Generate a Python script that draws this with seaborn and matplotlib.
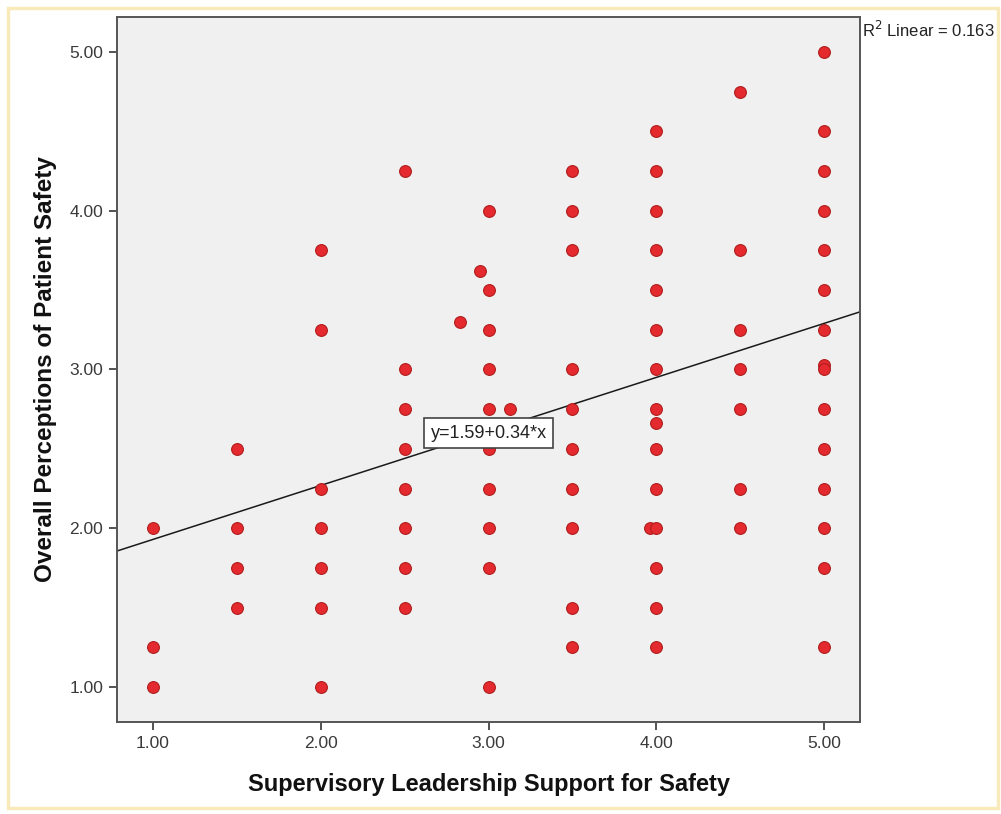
import matplotlib
matplotlib.use("Agg")
import matplotlib.pyplot as plt
import seaborn as sns
import pandas as pd
from matplotlib.patches import Rectangle

# ---- data ----
x_vals = (
    [1.0] * 3
    + [1.5] * 4
    + [2.0] * 7
    + [2.5] * 8
    + [2.83, 2.95, 3.13]
    + [3.0] * 10
    + [3.5] * 10
    + [3.96] + [4.0] * 15
    + [4.5] * 7
    + [5.0] * 15
)
y_vals = (
    [2.00, 1.25, 1.00]
    + [2.50, 2.00, 1.75, 1.50]
    + [3.75, 3.25, 2.25, 2.00, 1.75, 1.50, 1.00]
    + [4.25, 3.00, 2.75, 2.50, 2.25, 2.00, 1.75, 1.50]
    + [3.30, 3.62, 2.75]
    + [4.00, 3.50, 3.25, 3.00, 2.75, 2.50, 2.25, 2.00, 1.75, 1.00]
    + [4.25, 4.00, 3.75, 3.00, 2.75, 2.50, 2.25, 2.00, 1.50, 1.25]
    + [2.00]
    + [4.50, 4.25, 4.00, 3.75, 3.50, 3.25, 3.00, 2.75, 2.66, 2.50, 2.25, 2.00, 1.75, 1.50, 1.25]
    + [4.75, 3.75, 3.25, 3.00, 2.75, 2.25, 2.00]
    + [5.00, 4.50, 4.25, 4.00, 3.75, 3.50, 3.25, 3.03, 3.00, 2.75, 2.50, 2.25, 2.00, 1.75, 1.25]
)
intercept = 1.59
slope = 0.34
r_squared = 0.163
x_ticks = [1.0, 2.0, 3.0, 4.0, 5.0]
y_ticks = [1.0, 2.0, 3.0, 4.0, 5.0]
x_label = "Supervisory Leadership Support for Safety"
y_label = "Overall Perceptions of Patient Safety"

df = pd.DataFrame({"x": x_vals, "y": y_vals})

sns.set_theme(style="white")
plt.rcParams["font.family"] = ["Liberation Sans", "DejaVu Sans"]

fig = plt.figure(figsize=(10.01, 8.14), dpi=100)
fig.patch.set_facecolor("white")
ax = fig.add_axes([117 / 1001, 1 - 722 / 814, (860 - 117) / 1001, (722 - 17) / 814])
ax.set_facecolor("#F0F0F0")

# frame around the whole image
fig.patches.append(Rectangle((8 / 1001, 6 / 814), (998 - 8) / 1001, (806 - 6) / 814,
                             transform=fig.transFigure, fill=False,
                             edgecolor="#F8EABA", linewidth=2.5, zorder=0))

sns.scatterplot(data=df, x="x", y="y", ax=ax, s=72, color="#E42A2E",
                edgecolor="#B01C1C", linewidth=0.8, zorder=3, legend=False)

ax.axline((0, intercept), slope=slope, color="#1a1a1a", linewidth=1.1, zorder=2)

ax.set_xlim(0.785, 5.215)
ax.set_ylim(0.78, 5.22)
ax.set_xticks(x_ticks)
ax.set_yticks(y_ticks)
ax.set_xticklabels([f"{v:.2f}" for v in x_ticks])
ax.set_yticklabels([f"{v:.2f}" for v in y_ticks])
ax.tick_params(axis="both", direction="out", length=6, width=1.3, color="#444444",
               labelsize=12.5, labelcolor="#3a3a3a", pad=4,
               bottom=True, left=True)
for sp in ax.spines.values():
    sp.set_color("#555555")
    sp.set_linewidth(1.4)

ax.set_xlabel(x_label, fontsize=17, fontweight="bold", color="#111111", labelpad=16)
ax.set_ylabel(y_label, fontsize=17.5, fontweight="bold", color="#111111", labelpad=9)

ax.text(3.0, 2.6, f"y={intercept:.2f}+{slope:.2f}*x", ha="center", va="center",
        fontsize=13, color="#222222", zorder=5,
        bbox=dict(boxstyle="square,pad=0.35", facecolor="white", edgecolor="#444444", linewidth=1.2))

ax.text(1.003, 0.981, f"R$^2$ Linear = {r_squared:.3f}", transform=ax.transAxes,
        ha="left", va="center", fontsize=12, color="#222222")

fig.savefig("out.png", dpi=100, facecolor="white")
